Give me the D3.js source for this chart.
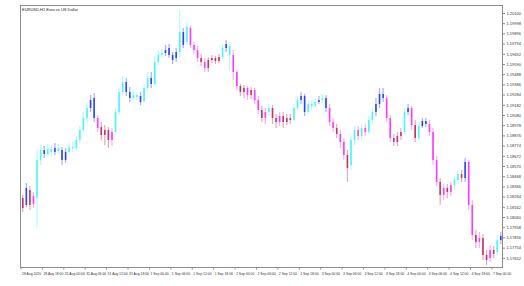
<!DOCTYPE html>
<html>
<head>
<meta charset="utf-8">
<script src="https://cdn.jsdelivr.net/npm/d3@7"></script>
<style>
  html, body { margin: 0; padding: 0; background: #fff; }
  svg { display: block; font-family: "Liberation Sans", Arial, sans-serif; }
</style>
</head>
<body>
<svg id="chart" width="524" height="286"></svg>
<script>
// EURUSD H1 bars
const opens = [1.1825,1.1818,1.1833,1.1819,1.1825,1.1863,1.1873,1.1869,1.1874,1.1871,1.1875,1.1873,1.1863,1.1871,1.1876,1.1875,1.1883,1.1893,1.1905,1.1915,
  1.1925,1.1905,1.1896,1.1888,1.1893,1.1883,1.1891,1.1911,1.1931,1.1941,1.1931,1.1925,1.1928,1.1927,1.1922,1.1935,1.1945,1.1939,1.1961,1.1968,
  1.1970,1.1975,1.1968,1.1965,1.1971,1.1991,1.1981,1.1995,1.1978,1.1973,1.1965,1.1961,1.1955,1.1963,1.1965,1.1962,1.1966,1.1975,1.1977,1.1968,
  1.1951,1.1937,1.1931,1.1935,1.1928,1.1933,1.1923,1.1913,1.1905,1.1911,1.1915,1.1905,1.1901,1.1907,1.1901,1.1905,1.1903,1.1915,1.1923,1.1927,
  1.1911,1.1919,1.1917,1.1921,1.1923,1.1925,1.1915,1.1901,1.1895,1.1889,1.1881,1.1868,1.1858,1.1883,1.1893,1.1887,1.1895,1.1891,1.1903,1.1911,
  1.1919,1.1929,1.1925,1.1905,1.1885,1.1881,1.1887,1.1891,1.1911,1.1915,1.1898,1.1885,1.1897,1.1902,1.1899,1.1891,1.1863,1.1841,1.1828,1.1835,
  1.1831,1.1838,1.1843,1.1849,1.1845,1.1861,1.1818,1.1788,1.1781,1.1785,1.1768,1.1765,1.1773,1.1771,1.1783];
const highs = [1.1828,1.1840,1.1837,1.1831,1.1873,1.1878,1.1877,1.1879,1.1878,1.1880,1.1879,1.1876,1.1875,1.1880,1.1881,1.1887,1.1897,1.1911,1.1920,1.1928,
  1.1930,1.1908,1.1901,1.1898,1.1896,1.1895,1.1915,1.1935,1.1947,1.1945,1.1936,1.1933,1.1931,1.1931,1.1939,1.1951,1.1951,1.1967,1.1973,1.1974,
  1.1978,1.1979,1.1971,1.1975,1.2013,1.1995,1.2000,1.1997,1.1981,1.1977,1.1969,1.1965,1.1966,1.1968,1.1967,1.1969,1.1979,1.1983,1.1979,1.1973,
  1.1953,1.1939,1.1938,1.1937,1.1936,1.1935,1.1927,1.1917,1.1915,1.1919,1.1918,1.1909,1.1911,1.1911,1.1909,1.1909,1.1919,1.1927,1.1931,1.1929,
  1.1923,1.1923,1.1925,1.1927,1.1929,1.1928,1.1919,1.1905,1.1899,1.1893,1.1885,1.1873,1.1888,1.1897,1.1897,1.1899,1.1899,1.1907,1.1915,1.1925,
  1.1935,1.1935,1.1928,1.1908,1.1889,1.1891,1.1895,1.1915,1.1919,1.1917,1.1903,1.1901,1.1905,1.1905,1.1903,1.1895,1.1867,1.1845,1.1839,1.1839,
  1.1841,1.1847,1.1853,1.1853,1.1865,1.1863,1.1823,1.1793,1.1791,1.1789,1.1773,1.1778,1.1777,1.1788,1.1791];
const lows = [1.1811,1.1816,1.1813,1.1815,1.1795,1.1858,1.1865,1.1866,1.1867,1.1868,1.1869,1.1858,1.1860,1.1870,1.1871,1.1873,1.1880,1.1890,1.1901,1.1911,
  1.1901,1.1891,1.1883,1.1878,1.1875,1.1877,1.1888,1.1908,1.1928,1.1927,1.1921,1.1923,1.1923,1.1918,1.1920,1.1933,1.1935,1.1937,1.1958,1.1965,
  1.1967,1.1965,1.1959,1.1961,1.1965,1.1975,1.1978,1.1975,1.1969,1.1961,1.1957,1.1951,1.1951,1.1960,1.1959,1.1960,1.1964,1.1971,1.1953,1.1943,
  1.1933,1.1927,1.1925,1.1923,1.1924,1.1919,1.1909,1.1901,1.1899,1.1907,1.1899,1.1895,1.1897,1.1895,1.1898,1.1899,1.1901,1.1913,1.1919,1.1907,
  1.1909,1.1913,1.1915,1.1919,1.1920,1.1911,1.1897,1.1891,1.1885,1.1875,1.1863,1.1841,1.1853,1.1878,1.1883,1.1883,1.1887,1.1889,1.1899,1.1907,
  1.1915,1.1921,1.1901,1.1881,1.1877,1.1877,1.1883,1.1889,1.1908,1.1893,1.1881,1.1883,1.1895,1.1896,1.1887,1.1858,1.1837,1.1818,1.1823,1.1825,
  1.1827,1.1833,1.1839,1.1841,1.1841,1.1813,1.1783,1.1775,1.1775,1.1763,1.1758,1.1761,1.1765,1.1768,1.1779];
const closes = [1.1815,1.1835,1.1818,1.1827,1.1863,1.1873,1.1869,1.1874,1.1871,1.1875,1.1872,1.1863,1.1871,1.1876,1.1875,1.1883,1.1893,1.1905,1.1915,1.1923,
  1.1905,1.1895,1.1888,1.1893,1.1883,1.1891,1.1911,1.1931,1.1941,1.1931,1.1925,1.1928,1.1926,1.1921,1.1935,1.1945,1.1939,1.1961,1.1968,1.1970,
  1.1973,1.1968,1.1963,1.1971,1.1991,1.1978,1.1996,1.1978,1.1973,1.1965,1.1961,1.1955,1.1963,1.1965,1.1962,1.1966,1.1975,1.1979,1.1968,1.1951,
  1.1937,1.1931,1.1935,1.1928,1.1933,1.1923,1.1913,1.1905,1.1911,1.1915,1.1905,1.1901,1.1907,1.1901,1.1905,1.1903,1.1915,1.1923,1.1927,1.1911,
  1.1919,1.1917,1.1921,1.1923,1.1925,1.1915,1.1901,1.1895,1.1889,1.1881,1.1868,1.1855,1.1883,1.1893,1.1887,1.1895,1.1891,1.1903,1.1911,1.1919,
  1.1929,1.1925,1.1905,1.1885,1.1881,1.1887,1.1891,1.1911,1.1915,1.1898,1.1885,1.1897,1.1902,1.1899,1.1891,1.1863,1.1841,1.1828,1.1835,1.1831,
  1.1838,1.1843,1.1849,1.1845,1.1861,1.1818,1.1788,1.1781,1.1785,1.1768,1.1763,1.1773,1.1769,1.1783,1.1787];
// bar colour class: c = light cyan, b = blue, m = magenta, r = dark red
const barColors = ["r","b","r","m","c","c","b","c","c","b","c","b","b","c","c","c","c","c","c","b",
  "b","m","r","r","r","m","c","c","c","b","b","c","c","b","c","c","b","c","c","c",
  "b","b","b","b","c","b","c","m","m","m","r","m","r","r","r","r","c","b","c","m",
  "m","r","r","m","r","m","m","r","m","c","r","r","m","r","r","r","c","c","b","b",
  "c","c","c","b","c","b","m","m","r","m","m","r","c","c","m","c","m","c","c","b",
  "b","b","m","m","r","r","r","c","b","m","r","c","b","b","m","m","m","r","m","r",
  "m","c","c","r","b","m","m","r","m","r","r","m","r","c","b"];

const xLabels = ["28 Aug 2020","28 Aug 18:00","31 Aug 00:00","31 Aug 06:00","31 Aug 12:00","31 Aug 18:00",
  "1 Sep 00:00","1 Sep 06:00","1 Sep 12:00","1 Sep 18:00","2 Sep 00:00","2 Sep 06:00","2 Sep 12:00",
  "2 Sep 18:00","3 Sep 00:00","3 Sep 06:00","3 Sep 12:00","3 Sep 18:00","4 Sep 00:00","4 Sep 06:00",
  "4 Sep 12:00","4 Sep 18:00","7 Sep 00:00"];
const yTicks = [1.20100,1.19998,1.19896,1.19794,1.19692,1.19590,1.19488,1.19386,1.19284,1.19182,
  1.19080,1.18978,1.18876,1.18774,1.18672,1.18570,1.18468,1.18366,1.18264,1.18162,
  1.18060,1.17958,1.17856,1.17754,1.17652];

const title = "EURUSD,H1  Euro vs US Dollar";
const palette = {c: "#3ff2ff", b: "#1838ff", m: "#ff2cff", r: "#c02656"};

const bars = opens.map((o, i) => ({i, o, h: highs[i], l: lows[i], c: closes[i], col: palette[barColors[i]]}));

const svg = d3.select("#chart");
const frame = {left: 20.5, right: 502.5, top: 5.5, bottom: 267.5};

const x = d3.scaleBand()
    .domain(d3.range(bars.length))
    .range([21, 502.6]);
const y = d3.scaleLinear()
    .domain([1.1756, 1.2018])
    .range([267, 5]);

// frame
svg.append("rect")
    .attr("x", frame.left).attr("y", frame.top)
    .attr("width", frame.right - frame.left).attr("height", frame.bottom - frame.top)
    .attr("fill", "none").attr("stroke", "#8c8c8c").attr("stroke-width", 1);

svg.append("text")
    .attr("x", 22).attr("y", 10.5)
    .attr("font-size", 4).attr("fill", "#222")
    .text(title);

// candles
const g = svg.append("g");
g.selectAll("line.wick")
    .data(bars)
    .join("line")
    .attr("class", "wick")
    .attr("x1", d => x(d.i) + x.bandwidth() / 2)
    .attr("x2", d => x(d.i) + x.bandwidth() / 2)
    .attr("y1", d => y(d.h))
    .attr("y2", d => y(d.l))
    .attr("stroke", d => d.col)
    .attr("stroke-opacity", 0.4)
    .attr("stroke-width", 1.2);

g.selectAll("rect.body")
    .data(bars)
    .join("rect")
    .attr("class", "body")
    .attr("x", d => x(d.i) + x.bandwidth() / 2 - 0.8)
    .attr("width", 1.6)
    .attr("y", d => y(Math.max(d.o, d.c)))
    .attr("height", d => Math.max(1, Math.abs(y(d.o) - y(d.c))))
    .attr("fill", d => d.col)
    .attr("fill-opacity", 0.9);

// price axis on the right
const yAxis = svg.append("g")
    .attr("transform", `translate(${frame.right},0)`)
    .call(d3.axisRight(y)
        .tickValues(yTicks)
        .tickFormat(d3.format(".5f"))
        .tickSize(2.5)
        .tickPadding(1.5));
yAxis.select(".domain").remove();
yAxis.selectAll("line").attr("stroke", "#8c8c8c");
yAxis.selectAll("text").attr("font-size", 4).attr("fill", "#333").attr("font-family", null);

// time axis
const xAxis = svg.append("g")
    .attr("transform", `translate(0,${frame.bottom})`)
    .call(d3.axisBottom(x)
        .tickValues(d3.range(0, bars.length, 6))
        .tickFormat(i => xLabels[i / 6])
        .tickSize(2)
        .tickPadding(3));
xAxis.select(".domain").remove();
xAxis.selectAll(".tick").attr("transform", i => `translate(${x(i)},0)`);
xAxis.selectAll("line").attr("stroke", "#8c8c8c");
xAxis.selectAll("text")
    .attr("text-anchor", "start")
    .attr("x", 1)
    .attr("font-size", 3.4).attr("fill", "#333").attr("font-family", null);
</script>
</body>
</html>
